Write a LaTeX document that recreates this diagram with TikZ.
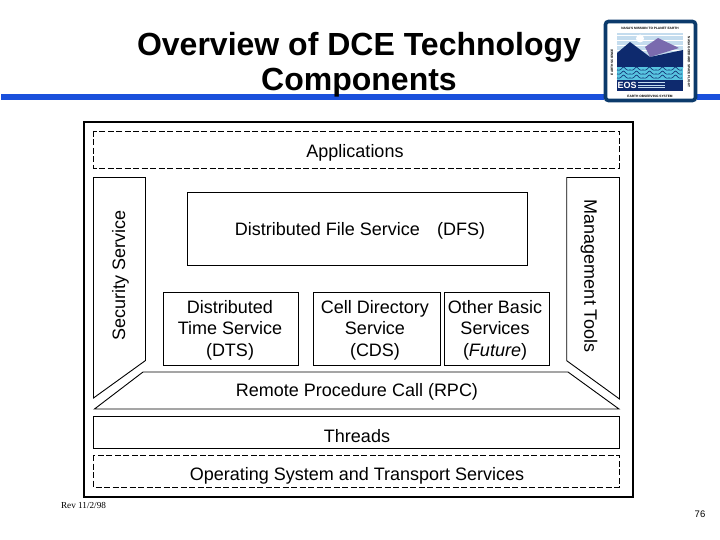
\documentclass[tikz,border=0pt]{standalone}
\usepackage{fontspec}
\setmainfont{Liberation Sans}
\newfontfamily\revfont{Liberation Serif}
\definecolor{barblue}{HTML}{1A50DC}
\definecolor{navy}{HTML}{0E2A6E}
\definecolor{framenavy}{HTML}{0B3A6B}
\definecolor{skyblue}{HTML}{C4DCEE}
\definecolor{mtnpurple}{HTML}{7A6AAE}
\definecolor{wavecyan}{HTML}{58C4E0}
\tikzset{
  solidbox/.style={draw=black,line width=0.9pt},
  dashbox/.style={draw=black,line width=0.9pt,dash pattern=on 6pt off 2.5pt},
  bodytext/.style={font=\fontsize{18}{21.5}\selectfont,align=center,inner sep=0pt,text=black},
  titletext/.style={font=\fontsize{32}{35}\selectfont\bfseries,align=center,inner sep=0pt,text=black},
  logotext/.style={font=\fontsize{3.2}{4}\selectfont\bfseries,inner sep=0pt,text=black},
}
\begin{document}
\begin{tikzpicture}[x=1pt,y=-1pt]
\useasboundingbox (0,0) rectangle (720,540);
% title bar
\fill[barblue] (1,94) rectangle (720,100.5);
\node[titletext] (title) at (359,64.5) {Overview of DCE Technology\\Components};
% logo
\fill[white] (604,20) rectangle (697,102);
\draw[framenavy,line width=3.6pt,rounded corners=3pt] (605.5,21.5) rectangle (695.5,100.5);
\fill[skyblue] (617,33) rectangle (683,68);
\foreach \yy in {36,41,46,51}{\draw[white,line width=1pt] (617,\yy) -- (683,\yy);}
\fill[white] (640,38.5) circle (4);
\fill[mtnpurple] (645,47) -- (658,38) -- (679,48) -- (650,57) -- cycle;
\fill[navy] (617,53) -- (630,42) -- (650,57) -- (683,50) -- (683,68) -- (617,68) -- cycle;
\fill[wavecyan] (617,67) rectangle (683,80);
\foreach \yy in {70,74,78}{
  \draw[navy,line width=.6pt] (617,\yy) \foreach \xx in {617,630,643,656,669}{ .. controls (\xx+4,\yy+1.5) and (\xx+5,\yy-3) .. (\xx+6.5,\yy-3) .. controls (\xx+8,\yy-3) and (\xx+9,\yy+1.5) .. (\xx+13,\yy)};
}
\fill[navy] (617,80) rectangle (683,91);
\node[font=\fontsize{9}{9}\selectfont\bfseries,text=white,inner sep=0pt] (eos) at (627,85.5) {EOS};
\foreach \yy in {82.5,85,87.5}{\draw[skyblue,line width=.7pt] (638,\yy) -- (665,\yy);}
\node[logotext] (logotop) at (650,28) {NASA'S MISSION TO PLANET EARTH};
\node[logotext] (logobot) at (650,96) {EARTH OBSERVING SYSTEM};
\node[logotext,rotate=90] (logoleft) at (612,62) {EARTH SCIENCE};
\node[logotext,rotate=-90] (logoright) at (689,62) {NASA GODDARD SPACE FLIGHT};
% outer frame
\draw[black,line width=2pt] (84,122) rectangle (632.5,497);
% dashed and solid layers
\draw[dashbox] (93.5,131) rectangle (619,168);
\node[bodytext] (apps) at (355,152.5) {Applications};
\draw[solidbox] (93.5,416) rectangle (619,448);
\node[bodytext] (threads) at (357,436.5) {Threads};
\draw[dashbox] (93.5,455) rectangle (619,487);
\node[bodytext] (os) at (357,475.5) {Operating System and Transport Services};
% side pillars
\draw[solidbox] (93.5,398) -- (93.5,177.5) -- (145.5,177.5) -- (145.5,360.5) -- cycle;
\node[bodytext,rotate=90] (sec) at (120.5,275) {Security Service};
\draw[solidbox] (619.5,399) -- (619.5,177.5) -- (566.7,177.5) -- (566.7,360.7) -- cycle;
\node[bodytext,rotate=-90] (mgmt) at (589,276) {Management Tools};
% RPC trapezoid
\draw[solidbox] (94.5,409) -- (143,372) -- (568,372) -- (619,409) -- cycle;
\node[bodytext] (rpc) at (357,391.5) {Remote Procedure Call (RPC)};
% services
\draw[solidbox] (187,192) rectangle (527,265);
\node[bodytext] (dfs) at (360,230.5) {Distributed File Service\hspace{0.95em}(DFS)};
\draw[solidbox] (163,292) rectangle (298,365);
\node[bodytext] (dts) at (230,330) {Distributed\\Time Service\\(DTS)};
\draw[solidbox] (313,292) rectangle (440,365);
\node[bodytext] (cds) at (375,330) {Cell Directory\\Service\\(CDS)};
\draw[solidbox] (444,292) rectangle (549,365);
\node[bodytext] (other) at (495,330) {Other Basic\\Services\\(\textit{Future})};
% footers
\node[font=\fontsize{9.2}{10}\selectfont\revfont,inner sep=0pt] (rev) at (83.5,505.5) {Rev 11/2/98};
\node[font=\fontsize{9.5}{10}\selectfont,inner sep=0pt] (page) at (700,514) {76};
\end{tikzpicture}
\end{document}
